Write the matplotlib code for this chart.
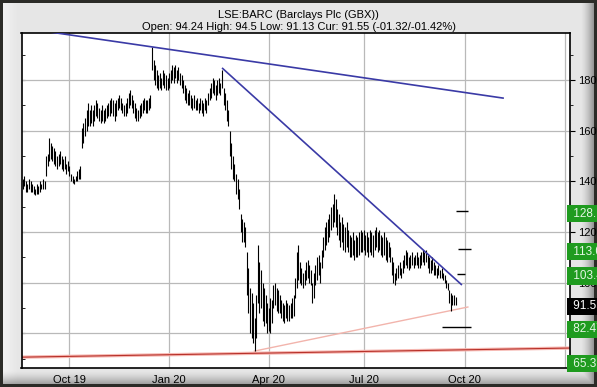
import numpy as np
import pandas as pd
import matplotlib
matplotlib.use("Agg")
import matplotlib.pyplot as plt
import matplotlib.transforms as mtransforms
from matplotlib.ticker import MultipleLocator, FixedLocator, NullFormatter

plt.rcParams['font.family'] = ['Liberation Sans', 'DejaVu Sans']

# ---------------- data ----------------
TITLE = "LSE:BARC (Barclays Plc (GBX))"
SUBTITLE = "Open: 94.24 High: 94.5 Low: 91.13 Cur: 91.55 (-01.32/-01.42%)"

UK_HOLIDAYS = ['2019-08-26', '2019-12-25', '2019-12-26', '2020-01-01', '2020-04-10',
               '2020-04-13', '2020-05-08', '2020-05-25', '2020-08-31', '2020-12-25',
               '2020-12-28', '2021-01-01']
FIRST_DAY = '2019-08-19'
LAST_CAL_DAY = '2021-02-15'

highs = [141, 142, 140, 139, 141, 140, 139, 138, 137, 139, 138, 140, 139, 141, 140,
         150, 151, 157, 155, 154, 153, 152, 150, 151, 152, 150, 149, 150, 147, 148,
         146, 143, 142, 141, 142, 144, 145, 146, 161, 163, 165, 168, 171, 168, 170,
         168, 170, 172, 171, 169, 168, 170, 168, 169, 170, 171, 172, 173, 172, 171,
         172, 173, 174, 173, 171, 170, 171, 173, 175, 176, 174, 172, 171, 169, 168,
         170, 171, 172, 173, 172, 172, 173, 174, 193, 188, 186, 184, 182, 183, 181,
         184, 183, 182, 181, 183, 184, 186, 185, 186, 184, 185, 183, 182, 180, 178,
         177, 175, 176, 174, 173, 174, 172, 173, 171, 173, 172, 171, 173, 172, 175,
         177, 179, 181, 180, 178, 180, 181, 179, 184, 177, 175, 172, 168, 160, 155,
         150, 147, 143, 141, 137, 127, 125, 124, 122, 112, 106, 98, 96, 92, 86,
         95, 115, 108, 105, 100, 98, 95, 92, 90, 94, 93, 99, 100, 98, 97,
         95, 93, 92, 91, 93, 92, 91, 92, 94, 95, 102, 112, 115, 108, 106,
         104, 105, 108, 109, 107, 105, 100, 104, 107, 110, 111, 108, 113, 118, 122,
         124, 125, 127, 130, 131, 135, 133, 129, 127, 124, 126, 123, 122, 124, 121,
         119, 118, 120, 117, 119, 118, 120, 121, 120, 121, 119, 120, 118, 121, 120,
         119, 121, 122, 120, 121, 119, 118, 120, 118, 117, 116, 114, 110, 108, 104,
         106, 107, 108, 106, 109, 111, 113, 112, 110, 111, 112, 110, 111, 112, 110,
         111, 112, 113, 112, 113, 111, 110, 109, 110, 108, 107, 106, 107, 105, 106,
         104, 103, 101, 100, 97, 96, 95, 95, 94.5]
lows = [137, 138, 136, 136, 137, 136, 136, 135, 134.5, 135, 135, 136, 137, 137, 137,
        142, 146, 148, 149, 148, 147, 146, 145, 146, 147, 145, 144, 145, 143, 144,
        142, 140, 139.5, 139, 140, 140, 141, 141, 153, 155, 158, 160, 162, 162, 163,
        162, 164, 166, 165, 164, 163, 164, 163, 164, 165, 166, 166, 167, 166, 164,
        166, 168, 169, 168, 167, 166, 166, 167, 169, 170, 169, 167, 165, 164, 164,
        165, 166, 167, 168, 167, 167, 168, 169, 184, 180, 178, 177, 176, 177, 176,
        178, 177, 176, 176, 177, 179, 180, 179, 181, 179, 180, 178, 177, 175, 172,
        171, 170, 170, 169, 168, 169, 168, 168, 167, 168, 167, 166, 168, 167, 170,
        172, 173, 175, 174, 172, 174, 175, 174, 177, 170, 168, 164, 162, 150, 145,
        141, 140, 135, 133, 129, 120, 116, 116, 114, 95, 88, 80, 78, 76, 73,
        78, 92, 88, 90, 85, 83, 84, 80, 81, 80, 84, 90, 91, 89, 88,
        88, 86, 85, 84, 86, 85, 85, 86, 86, 87, 94, 98, 101, 100, 99,
        98, 99, 101, 102, 100, 99, 92, 94, 99, 101, 103, 100, 106, 110, 113,
        115, 116, 118, 121, 122, 124, 122, 119, 117, 114, 116, 113, 112, 114, 112,
        110, 110, 111, 109, 110, 110, 111, 112, 112, 113, 111, 112, 110, 112, 111,
        110, 113, 114, 112, 113, 111, 110, 111, 109, 108, 110, 108, 103, 100, 99,
        101, 102, 103, 102, 104, 106, 107, 106, 105, 106, 107, 106, 107, 107, 106,
        106, 107, 108, 107, 108, 106, 104, 104, 105, 103, 103, 102, 103, 102, 102,
        101, 100, 98, 97, 92, 89, 91, 91, 91.13]

tick_dates = ['2019-10-01', '2020-01-01', '2020-04-01', '2020-07-01', '2020-10-01', '2021-01-01']
tick_labels = ['Oct 19', 'Jan 20', 'Apr 20', 'Jul 20', 'Oct 20', '']

# trend lines: (bar index, price) end points
upper_trend_x = [14.0, 308.5]
upper_trend_y = [199.3, 172.9]
falling_trend_x = [128.4, 281.7]
falling_trend_y = [184.6, 99.3]
support_trend_x = [148.8, 285.9]
support_trend_y = [73.0, 90.4]
base_trend_x = [-0.5, 351.5]
base_trend_y = [70.6, 74.2]

# target markers
target_levels = [128.4, 113.4, 103.5, 82.6]
target_x_start = [278.3, 279.6, 278.9, 269.3]
target_x_end = [285.8, 287.7, 284.1, 287.7]

price_labels = ['128.12', '113.08', '103.47', '91.55', '82.47', '65.3']
price_label_values = [128.12, 113.08, 103.47, 91.55, 82.47, 65.3]
price_label_colors = ['#1f9b1f', '#1f9b1f', '#1f9b1f', '#000000', '#1f9b1f', '#1f9b1f']

# ---------------- figure ----------------
W, H = 597, 387
fig = plt.figure(figsize=(W / 100, H / 100), dpi=100)

# background panel with bevel
bg = np.zeros((H, W, 3))
bg[:, :] = np.array([0.17, 0.17, 0.155])
panel = np.ones((H - 6, W - 6, 3)) * 0.905
cols = np.arange(W - 6)
rows = np.arange(H - 6)
left_light = np.clip((14 - cols) / 14, 0, 1) * 0.04
panel += left_light[None, :, None]
right_dark = np.clip((cols - (W - 6 - 14)) / 14, 0, 1) ** 1.5 * 0.35
bottom_dark = np.clip((rows - (H - 6 - 14)) / 14, 0, 1) ** 1.5 * 0.30
panel -= np.maximum(right_dark[None, :], bottom_dark[:, None])[:, :, None]
bg[3:H - 3, 3:W - 3] = panel
axbg = fig.add_axes([0, 0, 1, 1], zorder=-10)
axbg.imshow(bg, aspect='auto', interpolation='bilinear')
axbg.axis('off')

L, R, T, B = 21.5, 570.0, 33.0, 368.3
ax = fig.add_axes([L / W, (H - B) / H, (R - L) / W, (B - T) / H])
ax.set_facecolor('white')

trading_days = pd.bdate_range(FIRST_DAY, LAST_CAL_DAY, freq='C', holidays=UK_HOLIDAYS)
n = len(highs)
x = np.arange(n)

ax.set_xlim(-0.8, 351.5)
ax.set_ylim(66.2, 198.6)

# grid
tick_pos = [int(trading_days.searchsorted(pd.Timestamp(d))) for d in tick_dates]
ax.xaxis.set_major_locator(FixedLocator(tick_pos))
ax.set_xticklabels(tick_labels)
ax.yaxis.set_major_locator(MultipleLocator(20))
ax.yaxis.set_minor_locator(MultipleLocator(10))
ax.grid(True, which='major', color='#b9b9b9', lw=0.9)
ax.set_axisbelow(True)

ax.tick_params(axis='x', length=0, labelsize=8, pad=5, colors='black')
ax.tick_params(axis='y', which='both', left=False, labelleft=False, right=True,
               labelright=True, direction='out', labelsize=8, pad=2)
ax.tick_params(axis='y', which='major', length=3.5)
ax.tick_params(axis='y', which='minor', length=2.5)
sec = ax.secondary_yaxis('left')
sec.yaxis.set_major_locator(MultipleLocator(20))
sec.yaxis.set_minor_locator(MultipleLocator(10))
sec.tick_params(axis='y', which='both', direction='in', labelleft=False, length=2.5)
sec.yaxis.set_minor_formatter(NullFormatter())
sec.spines['left'].set_visible(False)

for s in ax.spines.values():
    s.set_color('black')
    s.set_linewidth(1.2)

# trend lines
ax.plot(base_trend_x, base_trend_y, color='#f6b8b2', lw=2.4, solid_capstyle='butt', zorder=2)
ax.plot(base_trend_x, base_trend_y, color='#b8312a', lw=0.8, solid_capstyle='butt', zorder=2.1)
ax.plot(support_trend_x, support_trend_y, color='#f2b4ac', lw=1.0, zorder=2)
ax.plot(upper_trend_x, upper_trend_y, color='#3a3aa6', lw=1.2, zorder=3)
ax.plot(falling_trend_x, falling_trend_y, color='#3a3aa6', lw=1.2, zorder=3)

# price bars
ax.vlines(x, lows, highs, color='black', lw=0.8, zorder=2.5)

# target markers
ax.hlines(target_levels, target_x_start, target_x_end, color='black', lw=1.0, zorder=3)

# right side price labels
trans = mtransforms.blended_transform_factory(ax.transAxes, ax.transData)
ylo = ax.get_ylim()[0]
for s, v, c in zip(price_labels, price_label_values, price_label_colors):
    yv = max(v, ylo + 2.6) - 0.8
    ax.text(1.0, yv, ' ' + s, transform=trans, ha='left', va='center', fontsize=8.5,
            color='#e4f6e4' if c != '#000000' else 'white', clip_on=False, zorder=10,
            bbox=dict(boxstyle='square,pad=0.22', fc=c, ec='none'))

fig.text(0.5, 1 - 15 / H, TITLE, ha='center', va='center', fontsize=8)
fig.text(0.5, 1 - 26.5 / H, SUBTITLE, ha='center', va='center', fontsize=8)

fig.savefig('out.png', dpi=100)
